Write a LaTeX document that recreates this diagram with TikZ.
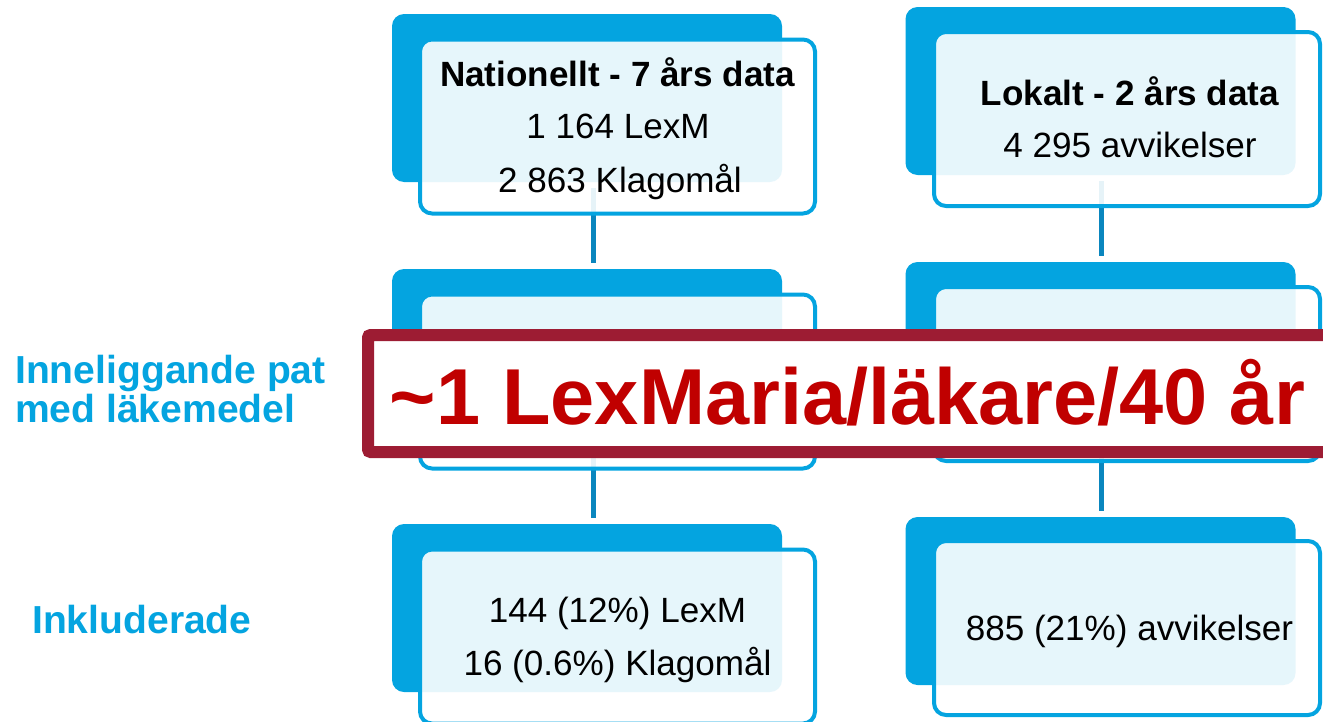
\documentclass[tikz,border=0pt]{standalone}
\usepackage{fontspec}
\setmainfont{Liberation Sans}
\definecolor{cblue}{RGB}{4,164,224}
\definecolor{cline}{RGB}{10,134,190}
\definecolor{cred}{RGB}{192,0,0}
\definecolor{cbanner}{RGB}{157,28,51}
\begin{document}
\begin{tikzpicture}[x=0.75pt,y=-0.75pt,
  backbox/.style={fill=cblue, rounded corners=9pt, minimum width=292.5pt, minimum height=126pt, inner sep=0pt},
  frontbox/.style={draw=cblue, line width=3pt, fill=white, fill opacity=0.9, rounded corners=9pt, minimum height=130.5pt, inner sep=0pt},
  frontL/.style={frontbox, minimum width=296.25pt},
  frontR/.style={frontbox, minimum width=289.5pt},
  conn/.style={draw=cline, line width=3.75pt},
  boxtxt/.style={anchor=base, inner sep=0pt, font=\fontsize{26.3}{31}\selectfont},
  boxhead/.style={boxtxt, font=\fontsize{26.3}{31}\selectfont\bfseries},
  sidelbl/.style={anchor=base west, inner sep=0pt, text=cblue, font=\fontsize{29.3}{35}\selectfont\bfseries},
  banner/.style={draw=cbanner, line width=9pt, fill=white, rounded corners=2pt, minimum width=732.75pt, minimum height=87.75pt, inner sep=0pt},
  bannertxt/.style={anchor=base, inner sep=0pt, text=cred, font=\fontsize{59.5}{70}\selectfont\bfseries}
]
\useasboundingbox (0,0) rectangle (1323,721);
\clip (0,0) rectangle (1323,721);

% back boxes
\node[backbox] (bL1) at (587,98) {};
\node[backbox] (bL2) at (587,353) {};
\node[backbox] (bL3) at (587,608) {};
\node[backbox] (bR1) at (1100.5,91) {};
\node[backbox] (bR2) at (1100.5,346) {};
\node[backbox] (bR3) at (1100.5,601) {};

% connectors
\draw[conn] ([xshift=4.5pt,yshift=-4.5pt]bL1.south) -- ([xshift=4.5pt,yshift=4pt]bL2.north);
\draw[conn] ([xshift=4.5pt,yshift=-4.5pt]bL2.south) -- ([xshift=4.5pt,yshift=4pt]bL3.north);
\draw[conn] ([xshift=1.1pt,yshift=-4.5pt]bR1.south) -- ([xshift=1.1pt,yshift=4pt]bR2.north);
\draw[conn] ([xshift=1.1pt,yshift=-4.5pt]bR2.south) -- ([xshift=1.1pt,yshift=4pt]bR3.north);

% front boxes
\node[frontL] (fL1) at (617.5,126.5) {};
\node[frontL] (fL2) at (617.5,381.5) {};
\node[frontL] (fL3) at (617.5,636.5) {};
\node[frontR] (fR1) at (1127,119) {};
\node[frontR] (fR2) at (1127,374) {};
\node[frontR] (fR3) at (1127,628) {};

% texts
\node[boxhead] (tL1a) at (617.5,86) {Nationellt - 7 års data};
\node[boxtxt] (tL1b) at (618,138) {1 164 LexM};
\node[boxtxt] (tL1c) at (620,192) {2 863 Klagomål};
\node[boxhead] (tR1a) at (1130,105) {Lokalt - 2 års data};
\node[boxtxt] (tR1b) at (1130,157) {4 295 avvikelser};
\node[boxtxt] (tL3a) at (617.5,622) {144 (12\%) LexM};
\node[boxtxt] (tL3b) at (617.5,675) {16 (0.6\%) Klagomål};
\node[boxtxt] (tR3a) at (1129.5,640) {885 (21\%) avvikelser};

% side labels
\node[sidelbl] (s1) at (15,383) {Inneliggande pat};
\node[sidelbl] (s2) at (15,422) {med läkemedel};
\node[sidelbl] (s3) at (32,633) {Inkluderade};

% banner
\node[banner] (ban) at (856.5,393.5) {};
\node[bannertxt] (bantxt) at (847.5,424) {\textasciitilde1 LexMaria/läkare/40 år};
\end{tikzpicture}
\end{document}
